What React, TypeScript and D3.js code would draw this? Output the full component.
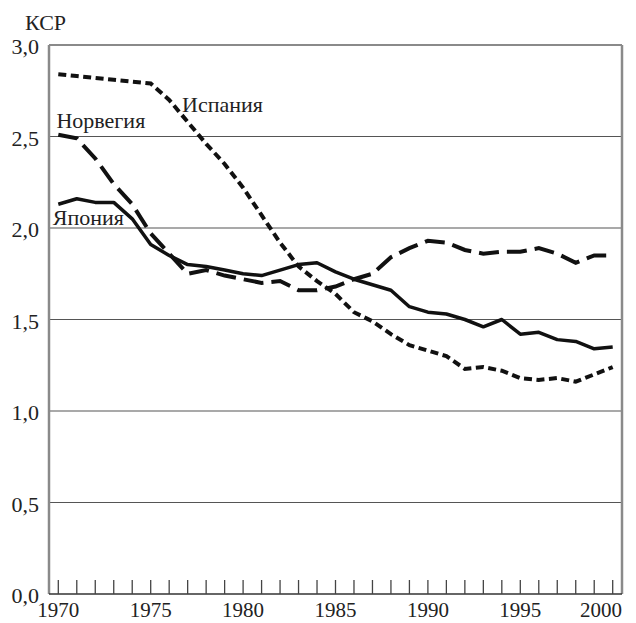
import React from "react";
import * as d3 from "d3";

const years = d3.range(1970, 2001);

const spain = [
  2.84, 2.83, 2.82, 2.81, 2.80, 2.79, 2.70, 2.58, 2.46, 2.35,
  2.22, 2.07, 1.92, 1.79, 1.71, 1.64, 1.54, 1.49, 1.42, 1.36,
  1.33, 1.30, 1.23, 1.24, 1.22, 1.18, 1.17, 1.18, 1.16, 1.20, 1.24,
];
const norway = [
  2.51, 2.49, 2.38, 2.24, 2.13, 1.97, 1.86, 1.75, 1.77, 1.74,
  1.72, 1.70, 1.71, 1.66, 1.66, 1.68, 1.72, 1.75, 1.84, 1.89,
  1.93, 1.92, 1.88, 1.86, 1.87, 1.87, 1.89, 1.86, 1.81, 1.85, 1.85,
];
const japan = [
  2.13, 2.16, 2.14, 2.14, 2.05, 1.91, 1.85, 1.80, 1.79, 1.77,
  1.75, 1.74, 1.77, 1.80, 1.81, 1.76, 1.72, 1.69, 1.66, 1.57,
  1.54, 1.53, 1.50, 1.46, 1.50, 1.42, 1.43, 1.39, 1.38, 1.34, 1.35,
];

const yTicks = [0, 0.5, 1.0, 1.5, 2.0, 2.5, 3.0];
const xLabelYears = [1970, 1975, 1980, 1985, 1990, 1995, 2000];

const seriesLabels = [
  { text: "Испания", year: 1976.7, value: 2.634 },
  { text: "Норвегия", year: 1969.9, value: 2.546 },
  { text: "Япония", year: 1969.7, value: 2.016 },
];

const W = 636;
const H = 623;
const frameLeft = 49;
const frameRight = 622;
const frameTop = 45;
const frameBottom = 594;

const x = d3.scaleLinear().domain([1970, 2000]).range([58.3, 612.7]);
const y = d3.scaleLinear().domain([0, 3]).range([frameBottom, frameTop]);

const fmt = (v: number) => v.toFixed(1).replace(".", ",");

const line = d3
  .line<number>()
  .x((_, i) => x(years[i]))
  .y((d) => y(d));

const textStyle: React.CSSProperties = {
  fontFamily: "'Liberation Serif', 'Times New Roman', Times, serif",
  fontSize: 22,
};

export default function App() {
  return (
    <svg
      width={W}
      height={H}
      style={{ position: "absolute", left: 0, top: 0, background: "#fff" }}
    >
      {yTicks
        .filter((t) => t > 0 && t < 3)
        .map((t) => (
          <line
            key={t}
            x1={frameLeft}
            x2={frameRight}
            y1={y(t)}
            y2={y(t)}
            stroke="#555"
            strokeWidth={1.2}
          />
        ))}
      <line x1={frameLeft} x2={frameRight} y1={frameTop} y2={frameTop} stroke="#8a8a8a" strokeWidth={2} />
      <line x1={frameRight} x2={frameRight} y1={frameTop} y2={frameBottom} stroke="#8a8a8a" strokeWidth={2.5} />
      <line x1={frameLeft} x2={frameLeft} y1={frameTop} y2={frameBottom} stroke="#8a8a8a" strokeWidth={2.5} />
      <line x1={frameLeft} x2={frameRight} y1={frameBottom} y2={frameBottom} stroke="#333" strokeWidth={1.5} />
      {years.map((yr) => (
        <line
          key={yr}
          x1={x(yr)}
          x2={x(yr)}
          y1={frameBottom - 14}
          y2={frameBottom}
          stroke="#444"
          strokeWidth={1.3}
        />
      ))}
      {yTicks.map((t) => (
        <text key={t} x={39} y={y(t) + 9} textAnchor="end" fontFamily="Liberation Serif" fontSize={22} fill="#222">
          {fmt(t)}
        </text>
      ))}
      {xLabelYears.map((yr, i) => {
        const last = i === xLabelYears.length - 1;
        return (
          <text
            key={yr}
            x={last ? frameRight : x(yr)}
            y={617}
            textAnchor={last ? "end" : "middle"}
            fontFamily="Liberation Serif"
            fontSize={21}
            fill="#222"
          >
            {yr}
          </text>
        );
      })}
      <text x={25} y={30} style={textStyle} fill="#222">
        КСР
      </text>
      <path d={line(spain) || ""} fill="none" stroke="#111" strokeWidth={4} strokeDasharray="8 4.5" />
      <path d={line(norway) || ""} fill="none" stroke="#111" strokeWidth={4} strokeDasharray="20 8" />
      <path d={line(japan) || ""} fill="none" stroke="#111" strokeWidth={3.5} strokeLinejoin="round" />
      {seriesLabels.map((l) => (
        <text key={l.text} x={x(l.year)} y={y(l.value)} style={textStyle} fill="#222">
          {l.text}
        </text>
      ))}
    </svg>
  );
}
